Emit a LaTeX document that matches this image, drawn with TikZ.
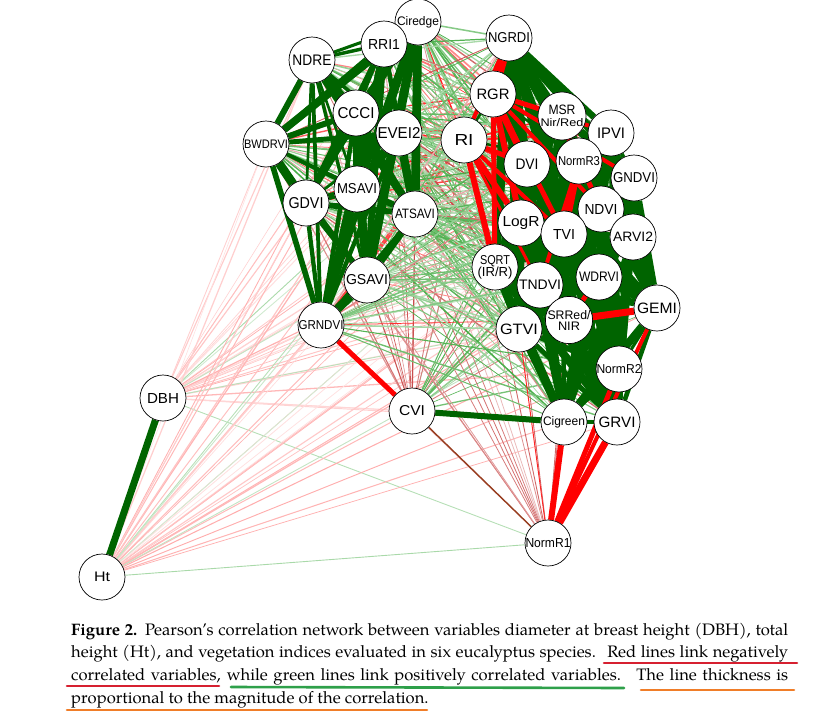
\documentclass[tikz,border=0pt]{standalone}
\usepackage{fontspec}
\usepackage{graphicx}
\setmainfont{TeX Gyre Pagella}
\setsansfont{Liberation Sans}
\usetikzlibrary{backgrounds}
\definecolor{dgreen}{RGB}{0,100,0}
\definecolor{lgreen}{RGB}{40,160,40}
\definecolor{pred}{RGB}{255,0,0}
\definecolor{dred}{RGB}{190,40,40}
\definecolor{brownred}{RGB}{150,60,30}
\definecolor{ulred}{RGB}{214,32,48}
\definecolor{ulgreen}{RGB}{46,160,74}
\definecolor{ulorange}{RGB}{240,125,40}
\newcommand{\nlab}[3]{\resizebox{#1pt}{#2pt}{#3}}
\tikzset{
  vn/.style={circle, draw=black, line width=0.7pt, fill=white, minimum size=46pt, inner sep=0pt, font=\sffamily\fontsize{10}{14}\selectfont, align=center},
  capline/.style={anchor=base west, inner sep=0pt, font=\fontsize{16.6}{20}\selectfont},
  uline/.style={line width=2.6pt, line cap=round},
  negmid/.style={draw=pred!85!white},
}
\def\Lset{Ciredge,RRI1,NDRE,CCCI,EVEI2,BWDRVI,MSAVI,GDVI,ATSAVI,GSAVI,GRNDVI}
\def\Rset{NGRDI,MSR,IPVI,DVI,GNDVI,NDVI,LogR,TVI,ARVI2,SQRT,TNDVI,WDRVI,GEMI,GTVI,NormR2,Cigreen,GRVI}
\def\Nset{RGR,RI,NormR3,SRRed,NormR1}
\def\Mset{RGR,RI,NormR3,SRRed}
\def\LRCset{Ciredge,RRI1,NDRE,CCCI,EVEI2,BWDRVI,MSAVI,GDVI,ATSAVI,GSAVI,GRNDVI,NGRDI,MSR,IPVI,DVI,GNDVI,NDVI,LogR,TVI,ARVI2,SQRT,TNDVI,WDRVI,GEMI,GTVI,NormR2,Cigreen,GRVI,CVI}
\begin{document}
\begin{tikzpicture}[x=1pt,y=-1pt]
\pgfmathsetseed{4242}
\useasboundingbox (0,0) rectangle (815,713);
% ---------------- nodes ----------------
\node[vn] (Ciredge) at (418,22) {\nlab{42}{9}{Ciredge}};
\node[vn] (NGRDI) at (509,38) {\nlab{42}{10}{NGRDI}};
\node[vn] (RRI1) at (384,44) {\nlab{32}{10}{RRI1}};
\node[vn] (NDRE) at (312,60) {\nlab{39}{10.5}{NDRE}};
\node[vn] (RGR) at (493,94) {\nlab{33}{10.5}{RGR}};
\node[vn] (MSR) at (562,116) {\nlab{27}{9.5}{MSR}\\[-2pt]\nlab{43}{8}{Nir/Red}};
\node[vn] (CCCI) at (356,113) {\nlab{37}{11}{CCCI}};
\node[vn] (EVEI2) at (399,133) {\nlab{43}{11}{EVEI2}};
\node[vn] (IPVI) at (611,133) {\nlab{28}{10.5}{IPVI}};
\node[vn] (RI) at (464,140) {\nlab{19}{11}{RI}};
\node[vn] (BWDRVI) at (266,144) {\nlab{44}{8.5}{BWDRVI}};
\node[vn] (DVI) at (527,164) {\nlab{23}{10.5}{DVI}};
\node[vn] (NormR3) at (579,161) {\nlab{42}{9}{NormR3}};
\node[vn] (GNDVI) at (634,178) {\nlab{42}{10}{GNDVI}};
\node[vn] (MSAVI) at (357,189) {\nlab{40}{10}{MSAVI}};
\node[vn] (GDVI) at (306,203) {\nlab{35}{11}{GDVI}};
\node[vn] (NDVI) at (601,209) {\nlab{33}{10}{NDVI}};
\node[vn] (ATSAVI) at (415,214) {\nlab{40}{9.5}{ATSAVI}};
\node[vn] (LogR) at (521,223) {\nlab{37}{10}{LogR}};
\node[vn] (TVI) at (564,234) {\nlab{22}{10}{TVI}};
\node[vn] (ARVI2) at (633,237) {\nlab{40}{9.5}{ARVI2}};
\node[vn] (SQRT) at (495,267) {\nlab{30}{9}{SQRT}\\[-2pt]\nlab{35}{9.5}{(IR/R)}};
\node[vn] (WDRVI) at (599,277) {\nlab{40}{9.5}{WDRVI}};
\node[vn] (GSAVI) at (367,280) {\nlab{42}{10}{GSAVI}};
\node[vn] (TNDVI) at (540,285) {\nlab{42}{9.5}{TNDVI}};
\node[vn] (GEMI) at (657,308) {\nlab{40}{10.5}{GEMI}};
\node[vn] (SRRed) at (569,320) {\nlab{43}{9}{SRRed/}\\[-3pt]\nlab{22}{8.5}{NIR}};
\node[vn] (GRNDVI) at (321,325) {\nlab{45}{9}{GRNDVI}};
\node[vn] (GTVI) at (519,329) {\nlab{38}{10.5}{GTVI}};
\node[vn] (NormR2) at (619,369) {\nlab{45}{9}{NormR2}};
\node[vn] (DBH) at (163,398) {\nlab{32}{10}{DBH}};
\node[vn] (CVI) at (412,411) {\nlab{26}{10}{CVI}};
\node[vn] (Cigreen) at (564,422) {\nlab{42}{9}{Cigreen}};
\node[vn] (GRVI) at (617,422) {\nlab{37}{10.5}{GRVI}};
\node[vn] (NormR1) at (548,543) {\nlab{45}{9}{NormR1}};
\node[vn] (Ht) at (102,577) {\nlab{16}{9.5}{Ht}};
% ---------------- edges ----------------
\begin{scope}[on background layer]
% DBH and Ht: faint lines to everything
\foreach \src in {DBH,Ht}{
  \foreach \dst in \LRCset{
    \pgfmathtruncatemacro\myop{12+22*rnd}
    \pgfmathsetmacro\mylw{0.6+0.7*rnd}
    \draw[draw=pred!\myop!white, line width=\mylw pt] (\src) -- (\dst);
  }
  \foreach \dst in \Nset{
    \pgfmathtruncatemacro\myop{20+25*rnd}
    \draw[draw=lgreen!\myop!white, line width=0.9pt] (\src) -- (\dst);
  }
}
% CVI thin lines
\foreach \dst in \Lset{
  \pgfmathtruncatemacro\myop{45+40*rnd}
  \pgfmathsetmacro\mylw{0.6+0.7*rnd}
  \draw[draw=dred!\myop!white, line width=\mylw pt] (CVI) -- (\dst);
}
\foreach \dst in \Rset{
  \pgfmathtruncatemacro\myop{40+40*rnd}
  \pgfmathsetmacro\mylw{0.6+0.8*rnd}
  \draw[draw=lgreen!\myop!white, line width=\mylw pt] (CVI) -- (\dst);
}
\foreach \dst in \Mset{
  \draw[draw=dred!60!white, line width=0.9pt] (CVI) -- (\dst);
}
% L -- N thin, red
\foreach \src in \Lset{
  \foreach \dst in \Mset{
    \pgfmathtruncatemacro\myop{35+55*rnd}
    \pgfmathsetmacro\mylw{0.6+1.4*rnd}
    \draw[draw=pred!\myop!white, line width=\mylw pt] (\src) -- (\dst);
  }
  \pgfmathtruncatemacro\myop{30+40*rnd}
  \draw[draw=dred!\myop!white, line width=0.8pt] (\src) -- (NormR1);
}
% NormR1 -- other negatives, thin red
\foreach \dst in \Mset{
  \draw[draw=dred!70!white, line width=0.9pt] (NormR1) -- (\dst);
}
% L -- R thin, mostly green
\foreach \src in \Lset{
  \foreach \dst in \Rset{
    \pgfmathtruncatemacro\myop{35+50*rnd}
    \pgfmathsetmacro\mylw{0.5+1.1*rnd}
    \pgfmathtruncatemacro\myrr{rnd<0.1 ? 1 : 0}
    \ifnum\myrr=1 \def\mycc{dred}\else\def\mycc{lgreen}\fi
    \draw[draw=\mycc!\myop!white, line width=\mylw pt] (\src) -- (\dst);
  }
}
% N -- R thinner red, under the green cluster
\foreach \dst in {NGRDI,MSR,IPVI,DVI,GNDVI,NDVI,LogR,TVI,ARVI2,SQRT,TNDVI,WDRVI}{
  \pgfmathsetmacro\mylw{0.8+1.4*rnd}
  \draw[negmid, line width=\mylw pt] (RGR) -- (\dst);
}
\foreach \dst in {NGRDI,MSR,IPVI,DVI,GNDVI,NDVI,LogR,TVI,SQRT,TNDVI}{
  \pgfmathsetmacro\mylw{0.8+1.4*rnd}
  \draw[negmid, line width=\mylw pt] (RI) -- (\dst);
}
\foreach \dst in {MSR,IPVI,DVI,GNDVI,NDVI,LogR,TVI,ARVI2,TNDVI,WDRVI}{
  \pgfmathsetmacro\mylw{0.8+1.4*rnd}
  \draw[negmid, line width=\mylw pt] (NormR3) -- (\dst);
}
\foreach \dst in {WDRVI,GEMI,TNDVI,GTVI,NormR2,ARVI2,TVI}{
  \pgfmathsetmacro\mylw{0.8+1.4*rnd}
  \draw[negmid, line width=\mylw pt] (SRRed) -- (\dst);
}
\foreach \dst in {Cigreen,GRVI,NormR2,GEMI,GTVI}{
  \pgfmathsetmacro\mylw{0.8+1.4*rnd}
  \draw[negmid, line width=\mylw pt] (NormR1) -- (\dst);
}
% N -- N medium green (upper negatives)
\foreach \src [count=\ii] in \Mset{
  \foreach \dst [count=\jj] in \Mset{
    \ifnum\jj>\ii \draw[draw=dgreen, line width=2.5pt] (\src) -- (\dst);\fi
  }
}
% L -- L thick green
\foreach \src [count=\ii] in \Lset{
  \foreach \dst [count=\jj] in \Lset{
    \ifnum\jj>\ii
      \pgfmathsetmacro\mylw{2.5+7*rnd}
      \draw[draw=dgreen, line width=\mylw pt] (\src) -- (\dst);
    \fi
  }
}
% R -- R thick green
\foreach \src [count=\ii] in \Rset{
  \foreach \dst [count=\jj] in \Rset{
    \ifnum\jj>\ii
      \pgfmathsetmacro\mylw{3+7*rnd}
      \draw[draw=dgreen, line width=\mylw pt] (\src) -- (\dst);
    \fi
  }
}
% strong negative correlations on top
\foreach \src/\dst/\mylw in {NGRDI/RGR/9, NGRDI/RI/4, RGR/DVI/7, RGR/LogR/6, RGR/SQRT/5, RGR/MSR/5, RGR/IPVI/4, RGR/GNDVI/4, RGR/NDVI/4, RGR/TVI/5, RI/DVI/5, RI/LogR/6, RI/SQRT/6, RI/TNDVI/3, RI/TVI/4, NormR3/TVI/7, NormR3/NDVI/5, NormR3/TNDVI/4, SRRed/GEMI/7, SRRed/WDRVI/5, NormR1/Cigreen/6, NormR1/GRVI/7, NormR1/NormR2/5, NormR1/GEMI/4}{
  \draw[draw=pred, line width=\mylw pt] (\src) -- (\dst);
}
% special edges
\draw[draw=dgreen, line width=6pt] (CVI) -- (Cigreen);
\draw[draw=pred, line width=5pt] (CVI) -- (GRNDVI);
\draw[draw=brownred, line width=1.4pt] (CVI) -- (NormR1);
\draw[draw=dgreen, line width=7pt] (DBH) -- (Ht);
\end{scope}
% ---------------- caption ----------------
\node[capline] (c1) at (71,635) {\makebox[717pt][s]{\textbf{Figure 2.} Pearson’s correlation network between variables diameter at breast height (DBH), total}};
\node[capline] (c2) at (71,657) {\makebox[717pt][s]{height (Ht), and vegetation indices evaluated in six eucalyptus species. \ Red lines link negatively}};
\node[capline] (c3) at (71,680) {\makebox[717pt][s]{correlated variables, while green lines link positively correlated variables. \ The line thickness is}};
\node[capline] (c4) at (71,703) {proportional to the magnitude of the correlation.};
\draw[uline, ulred] (604,663) -- (797,663);
\draw[uline, ulred] (67,686) -- (219,686);
\draw[uline, ulgreen] (231,687) -- (624,688);
\draw[uline, ulorange] (641,690) -- (794,690);
\draw[uline, ulorange] (67,710) -- (427,710);
\end{tikzpicture}
\end{document}
